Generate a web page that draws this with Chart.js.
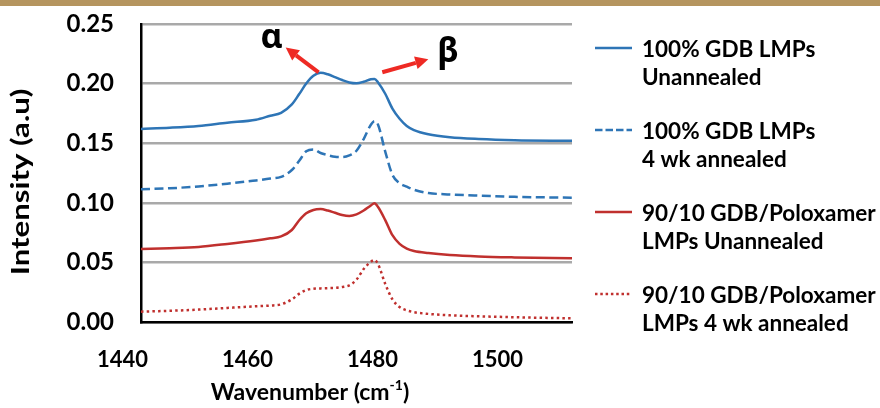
<!DOCTYPE html>
<html>
<head>
<meta charset="utf-8">
<script src="https://cdn.jsdelivr.net/npm/chart.js@4.4.1/dist/chart.umd.min.js"></script>
<style>
  html, body { margin: 0; padding: 0; background: #ffffff; }
  #wrap { position: relative; width: 880px; height: 408px; overflow: hidden; }
  #band { position: absolute; left: 0; top: 0; width: 880px; height: 6px; background: #b5955f; }
  canvas { position: absolute; left: 0; top: 0; }
</style>
</head>
<body>
<div id="wrap">
  <canvas id="chart" width="880" height="408"></canvas>
  <div id="band"></div>
</div>
<script>
// Wavenumber grid (cm-1) shared by all four spectra
const wavenumbers = [1440, 1444, 1448, 1452, 1456, 1458, 1459.5, 1461, 1462, 1463, 1464, 1465, 1466, 1467, 1468, 1469, 1470, 1471, 1472, 1472.5, 1473, 1474, 1475, 1476, 1477, 1478, 1480, 1483, 1487, 1492, 1500];

// Intensity (a.u.) of each sample
const gdbUnannealed = [0.1620, 0.1630, 0.1645, 0.1672, 0.1697, 0.1730, 0.1755, 0.1825, 0.1910, 0.2000, 0.2065, 0.2090, 0.2078, 0.2055, 0.2030, 0.2010, 0.2003, 0.2016, 0.2037, 0.2039, 0.2010, 0.1915, 0.1790, 0.1705, 0.1645, 0.1610, 0.1575, 0.1550, 0.1535, 0.1525, 0.1520];
const gdbAnnealed = [0.1113, 0.1122, 0.1137, 0.1160, 0.1188, 0.1203, 0.1218, 0.1275, 0.1350, 0.1432, 0.1448, 0.1418, 0.1400, 0.1386, 0.1384, 0.1398, 0.1437, 0.1535, 0.1655, 0.1685, 0.1655, 0.1430, 0.1235, 0.1165, 0.1135, 0.1110, 0.1082, 0.1070, 0.1060, 0.1050, 0.1043];
const poloxamerUnannealed = [0.0612, 0.0619, 0.0630, 0.0655, 0.0684, 0.0702, 0.0718, 0.0772, 0.0852, 0.0912, 0.0940, 0.0947, 0.0935, 0.0916, 0.0898, 0.0890, 0.0903, 0.0935, 0.0978, 0.0996, 0.0965, 0.0855, 0.0728, 0.0655, 0.0615, 0.0595, 0.0578, 0.0562, 0.0550, 0.0542, 0.0534];
const poloxamerAnnealed = [0.0087, 0.0094, 0.0104, 0.0118, 0.0132, 0.0138, 0.0148, 0.0190, 0.0236, 0.0268, 0.0279, 0.0282, 0.0284, 0.0286, 0.0293, 0.0308, 0.0355, 0.0445, 0.0505, 0.0520, 0.0485, 0.0320, 0.0190, 0.0125, 0.0098, 0.0082, 0.0068, 0.0056, 0.0048, 0.0040, 0.0031];

// Legend captions, two lines each
const seriesNames = [
  ['100% GDB LMPs', 'Unannealed'],
  ['100% GDB LMPs', '4 wk annealed'],
  ['90/10 GDB/Poloxamer', 'LMPs Unannealed'],
  ['90/10 GDB/Poloxamer', 'LMPs 4 wk annealed']
];

// Axis tick values
const wavenumberTicks = [1440, 1460, 1480, 1500];
const intensityTicks = [0.00, 0.05, 0.10, 0.15, 0.20, 0.25];

const BLUE = '#2e75b6';
const RED = '#c0302e';
const FONT = 'Lato, "Open Sans", sans-serif';

const toPoints = vals => wavenumbers.map((w, i) => ({ x: w, y: vals[i] }));

// Legend drawn at the right of the plot, with two-line captions
const sideLegend = {
  id: 'sideLegend',
  afterDraw(chart, args, opts) {
    const ctx = chart.ctx;
    ctx.save();
    chart.data.datasets.forEach((ds, i) => {
      const y = opts.top + i * opts.step;
      ctx.strokeStyle = ds.borderColor;
      ctx.lineWidth = ds.borderWidth;
      ctx.setLineDash(ds.legendDash || []);
      ctx.beginPath();
      ctx.moveTo(opts.lineStart, y);
      ctx.lineTo(opts.lineEnd, y);
      ctx.stroke();
      ctx.setLineDash([]);
      ctx.fillStyle = '#000';
      ctx.font = 'bold ' + opts.fontSize + 'px ' + FONT;
      ctx.textAlign = 'left';
      ctx.textBaseline = 'middle';
      ds.label.forEach((line, k) => {
        ctx.fillText(line, opts.textStart, y + opts.firstOffset + k * opts.lineGap);
      });
    });
    ctx.restore();
  }
};

// Axis titles (the wavenumber unit needs a superscript)
const axisTitles = {
  id: 'axisTitles',
  afterDraw(chart, args, opts) {
    const { ctx, chartArea } = chart;
    const xl = chart.scales.xLabels;
    ctx.save();
    ctx.fillStyle = '#000';
    ctx.textBaseline = 'alphabetic';
    ctx.textAlign = 'left';
    // x title
    const big = 'bold ' + opts.size + 'px ' + FONT;
    const small = 'bold ' + Math.round(opts.size * 0.62) + 'px ' + FONT;
    const base = 'Wavenumber (cm', sup = '-1', tail = ')';
    ctx.font = big;
    const wBase = ctx.measureText(base).width, wTail = ctx.measureText(tail).width;
    ctx.font = small;
    const wSup = ctx.measureText(sup).width;
    const cx = (xl.getPixelForValue(wavenumberTicks[0]) + xl.getPixelForValue(wavenumberTicks[wavenumberTicks.length - 1])) / 2 + xl.options.ticks.labelOffset;
    let x = cx - (wBase + wSup + wTail) / 2;
    const yb = opts.xBaseline;
    ctx.font = big; ctx.fillText(base, x, yb); x += wBase;
    ctx.font = small; ctx.fillText(sup, x, yb - opts.size * 0.42); x += wSup;
    ctx.font = big; ctx.fillText(tail, x, yb);
    // y title
    ctx.translate(opts.yTitleX, (chartArea.top + chartArea.bottom) / 2 + opts.yShift);
    ctx.rotate(-Math.PI / 2);
    ctx.scale(opts.yStretch, 1);
    ctx.textAlign = 'center';
    ctx.textBaseline = 'middle';
    ctx.font = 'bold ' + opts.ySize + 'px ' + FONT;
    ctx.fillText('Intensity (a.u)', 0, 0);
    ctx.restore();
  }
};

// α / β peak markers with red arrows, placed in data coordinates
const peakMarks = {
  id: 'peakMarks',
  afterDatasetsDraw(chart, args, opts) {
    const { ctx, scales: { x, y } } = chart;
    ctx.save();
    opts.items.forEach(m => {
      const x0 = x.getPixelForValue(m.from[0]), y0 = y.getPixelForValue(m.from[1]);
      const x1 = x.getPixelForValue(m.to[0]), y1 = y.getPixelForValue(m.to[1]);
      const a = Math.atan2(y1 - y0, x1 - x0);
      const bx = x1 - opts.head * Math.cos(a), by = y1 - opts.head * Math.sin(a);
      ctx.strokeStyle = opts.color;
      ctx.fillStyle = opts.color;
      ctx.lineWidth = opts.width;
      ctx.beginPath(); ctx.moveTo(x0, y0); ctx.lineTo(bx, by); ctx.stroke();
      ctx.beginPath();
      ctx.moveTo(x1, y1);
      ctx.lineTo(bx + opts.half * Math.sin(a), by - opts.half * Math.cos(a));
      ctx.lineTo(bx - opts.half * Math.sin(a), by + opts.half * Math.cos(a));
      ctx.closePath(); ctx.fill();
      ctx.fillStyle = '#000';
      ctx.font = 'bold ' + opts.size + 'px "Noto Sans", "DejaVu Sans", sans-serif';
      ctx.textAlign = 'center';
      ctx.textBaseline = 'alphabetic';
      ctx.fillText(m.text, x.getPixelForValue(m.at[0]), y.getPixelForValue(m.at[1]));
    });
    ctx.restore();
  }
};

new Chart(document.getElementById('chart'), {
  type: 'line',
  data: {
    datasets: [
      { label: seriesNames[0], data: toPoints(gdbUnannealed), borderColor: BLUE, borderWidth: 2.5 },
      { label: seriesNames[1], data: toPoints(gdbAnnealed), borderColor: BLUE, borderWidth: 2.5, borderDash: [9, 4.5], legendDash: [7.5, 3] },
      { label: seriesNames[2], data: toPoints(poloxamerUnannealed), borderColor: RED, borderWidth: 2.5 },
      { label: seriesNames[3], data: toPoints(poloxamerAnnealed), borderColor: RED, borderWidth: 2.5, borderDash: [2.5, 3.2], legendDash: [2.5, 2.8] }
    ]
  },
  options: {
    responsive: false,
    animation: false,
    devicePixelRatio: 1,
    layout: { padding: { left: 0, top: 24, right: 308, bottom: 0 } },
    elements: {
      point: { radius: 0 },
      line: { cubicInterpolationMode: 'monotone', fill: false, borderCapStyle: 'butt' }
    },
    plugins: {
      legend: { display: false },
      tooltip: { enabled: false },
      sideLegend: { top: 48, step: 82, lineStart: 595, lineEnd: 632, textStart: 642, fontSize: 22.5, firstOffset: 2, lineGap: 28 },
      axisTitles: { size: 23, xBaseline: 400, yTitleX: 21, yShift: 9, ySize: 24, yStretch: 1.3 },
      peakMarks: {
        color: '#ee2a24', width: 4, head: 13, half: 6.5, size: 34,
        items: [
          { text: 'α', from: [1464.72, 0.2095], to: [1460.14, 0.2302], at: [1458.2, 0.2299] },
          { text: 'β', from: [1473.59, 0.2095], to: [1480.0, 0.2204], at: [1482.74, 0.2181] }
        ]
      }
    },
    scales: {
      x: {
        type: 'linear', min: 1440, max: 1500, display: false
      },
      xLabels: {
        type: 'linear', position: 'bottom',
        min: 1436.56, max: 1505.52,
        afterBuildTicks: s => { s.ticks = wavenumberTicks.map(v => ({ value: v })); },
        afterFit: s => { s.height = 86; },
        grid: { display: false },
        border: { display: true, color: '#000', width: 2.5 },
        ticks: {
          labelOffset: -40, padding: 17, color: '#000', maxRotation: 0,
          font: { family: FONT, size: 22, weight: 'bold' },
          callback: v => String(v)
        }
      },
      y: {
        type: 'linear', min: 0, max: 0.25,
        afterBuildTicks: s => { s.ticks = intensityTicks.map(v => ({ value: v })); },
        afterFit: s => { s.width = 141; s.paddingTop = 0; s.paddingBottom = 0; },
        grid: { color: '#a9a9a9', lineWidth: 2.5, drawTicks: false },
        border: { display: true, color: '#000', width: 2.5 },
        ticks: {
          padding: 27, color: '#000',
          font: { family: FONT, size: 24, weight: 'bold' },
          callback: v => v.toFixed(2)
        }
      }
    }
  },
  plugins: [sideLegend, axisTitles, peakMarks]
});
</script>
</body>
</html>
